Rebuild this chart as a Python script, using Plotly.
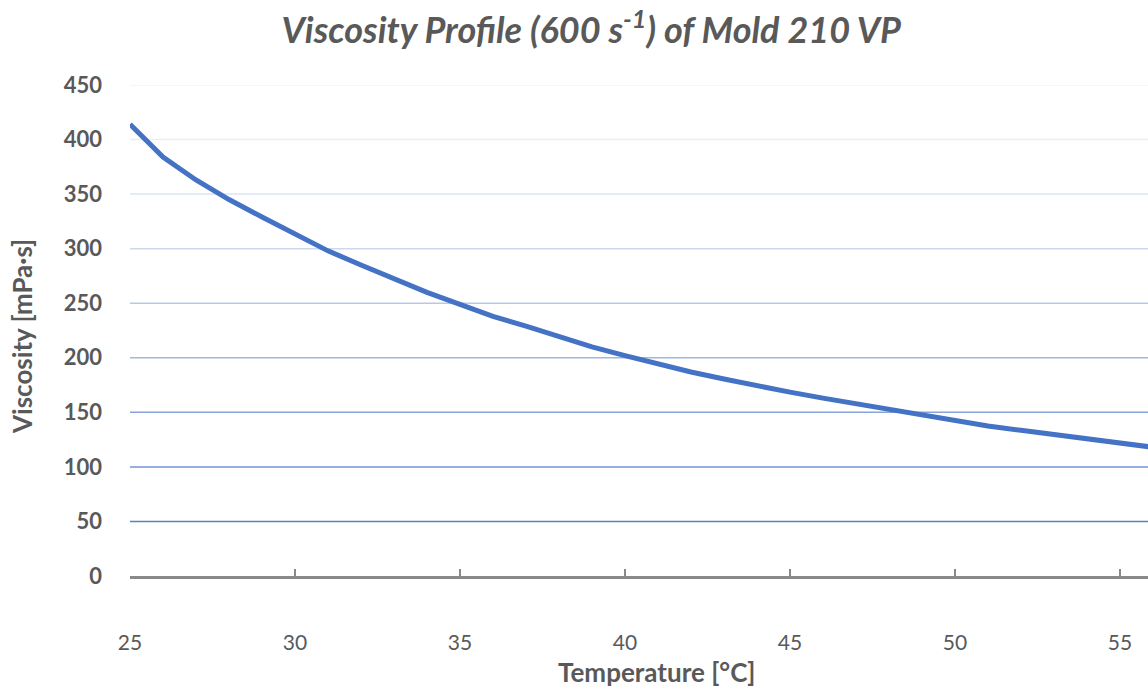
import plotly.graph_objects as go

temperature = [25, 26, 27, 28, 29, 30, 31, 32, 33, 34, 35, 36, 37, 38, 39, 40,
               41, 42, 43, 44, 45, 46, 47, 48, 49, 50, 51, 52, 53, 54, 55, 56]
viscosity = [414, 384, 363, 345, 329, 313, 298, 285, 272, 260, 249, 238, 229, 219, 210, 202,
             194, 187, 180.5, 174, 168.5, 163, 158, 152.5, 147.5, 142, 137.5, 133.5, 129.5, 125.5, 122, 118]

x_ticks = [25, 30, 35, 40, 45, 50, 55]
y_ticks = [0, 50, 100, 150, 200, 250, 300, 350, 400, 450]
grid_colors = ["#898989", "#5a80cb", "#7494d3", "#8aa4d9", "#a3b7e0",
               "#b9c8e8", "#cdd8ef", "#dde4f3", "#e8edf7", "#f1f3f9"]

TXT = "#595959"
FONT = "Lato"

fig = go.Figure()
fig.add_trace(go.Scatter(x=temperature, y=viscosity, mode="lines",
                         line=dict(color="#4472c4", width=5), hoverinfo="skip"))

for v, c in zip(y_ticks[1:], grid_colors[1:]):
    fig.add_shape(type="line", xref="paper", x0=0, x1=1, yref="y", y0=v, y1=v,
                  line=dict(color=c, width=1.5), layer="below")

fig.update_layout(
    width=1148, height=688,
    margin=dict(l=130, r=0, t=85, b=112, autoexpand=False),
    paper_bgcolor="white", plot_bgcolor="white",
    showlegend=False,
    title=dict(text="<b><i>Viscosity Profile (600 s<sup>-1</sup>) of Mold 210 VP</i></b>",
               x=0.515, xanchor="center", y=0.956, yanchor="middle",
               font=dict(family=FONT, size=36, color=TXT)),
    xaxis=dict(range=[25, 55.85], tickvals=x_ticks, showgrid=False, zeroline=False,
               automargin=False,
               showline=True, linecolor="#898989", linewidth=2.5,
               ticks="inside", ticklen=7, tickwidth=2, tickcolor="#898989",
               ticklabelstandoff=46,
               tickfont=dict(family=FONT, size=21, color=TXT)),
    yaxis=dict(range=[0, 450], tickvals=y_ticks, showgrid=False, zeroline=False,
               automargin=False,
               showline=False, ticks="", ticklabelstandoff=27,
               tickfont=dict(family=FONT, size=22, color=TXT, weight="bold")),
    annotations=[
        dict(text="<b>Temperature [°C]</b>", xref="paper", yref="paper",
             x=0.517, y=-0.1955, xanchor="center", yanchor="middle", showarrow=False,
             font=dict(family=FONT, size=26, color=TXT)),
        dict(text="<b>Viscosity [mPa·s]</b>", xref="paper", yref="paper",
             x=-0.106, y=0.487, xanchor="center", yanchor="middle", showarrow=False,
             textangle=-90, font=dict(family=FONT, size=26, color=TXT)),
    ],
)

fig.write_html("out.html", config={"displayModeBar": False},
               post_script="document.body.style.margin='0';document.body.style.overflow='hidden';")
